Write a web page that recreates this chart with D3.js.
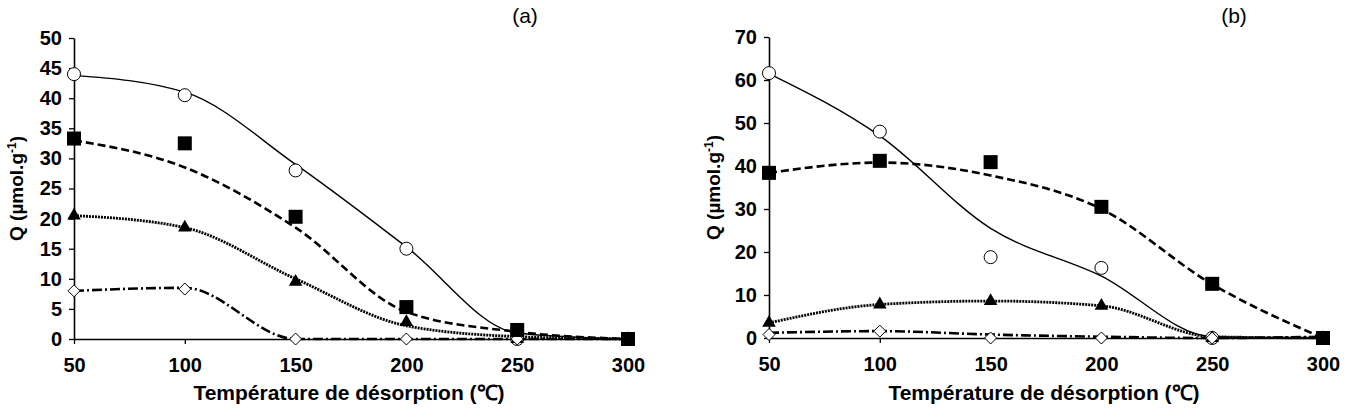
<!DOCTYPE html>
<html>
<head>
<meta charset="utf-8">
<script src="https://cdn.jsdelivr.net/npm/d3@7"></script>
<style>
    body { margin: 0; background: #fff; }
    svg text { font-family: "Liberation Sans", Arial, sans-serif; fill: #000; }
    .tick text { font-size: 20px; font-weight: bold; }
    .axis-title { font-size: 21px; font-weight: bold; }
    .panel-label { font-size: 21px; }
</style>
</head>
<body>
<svg id="chart" width="1371" height="410"></svg>
<script>
// temperatures (°C)
const temps = [50, 100, 150, 200, 250, 300];

// panel (a) measured points
const aCircle = [44, 40.5, 28, 15, 0, 0];
const aSquare = [33.3, 32.5, 20.3, 5.3, 1.5, 0];
const aTriangle = [20.5, 18.5, 9.5, 2.8, 0, 0];
const aDiamond = [8, 8.3, 0, 0, 0, 0];
// panel (a) smoothed trend lines
const aFitCircle = [43.8, 41, 29, 15.3, 1, 0];
const aFitSquare = [33, 28.5, 18.5, 4.5, 1.2, 0];
const aFitTriangle = [20.5, 18.5, 10, 2.2, 0.4, 0];
const aFitDiamond = [8, 8.5, 0, 0, 0, 0];

// panel (b) measured points
const bCircle = [61.6, 48, 18.8, 16.3, 0, 0];
const bSquare = [38.4, 41.2, 40.9, 30.5, 12.6, 0];
const bTriangle = [3.5, 7.8, 8.6, 7.5, 0, 0];
const bDiamond = [0.8, 1.6, 0, 0, 0, 0];
// panel (b) smoothed trend lines
const bFitCircle = [61.5, 47, 25.5, 14.4, 0.3, 0];
const bFitSquare = [38.4, 40.8, 37.8, 30, 12.5, 0];
const bFitTriangle = [3.5, 7.8, 8.6, 7.5, 0.3, 0];
const bFitDiamond = [1.2, 1.6, 0.8, 0.3, 0, 0.3];

const xTicks = [50, 100, 150, 200, 250, 300];
const aYTicks = d3.range(0, 51, 5);
const bYTicks = d3.range(0, 71, 10);

const svg = d3.select("#chart");

function drawPanel(opts) {
    const x = d3.scaleLinear().domain([50, 300]).range([opts.x0, opts.x1]);
    const y = d3.scaleLinear().domain([0, opts.yMax]).range([opts.y0, opts.y1]);
    const g = svg.append("g");

    // axes
    const xAxis = g.append("g")
        .attr("transform", `translate(0,${opts.y0})`)
        .call(d3.axisBottom(x).tickValues(xTicks).tickSize(5).tickSizeOuter(0).tickPadding(14));
    const yAxis = g.append("g")
        .attr("transform", `translate(${opts.x0},0)`)
        .call(d3.axisLeft(y).tickValues(opts.yTicks).tickSize(5).tickSizeOuter(0).tickPadding(7));
    [xAxis, yAxis].forEach(a => {
        a.attr("font-family", null).attr("font-size", null);
        a.select(".domain").attr("stroke", "#000").attr("stroke-width", 1.6);
        a.selectAll(".tick line").attr("stroke", "#000").attr("stroke-width", 1.3);
    });

    // trend lines
    const line = d3.line()
        .x((d, i) => x(temps[i]))
        .y(d => y(d))
        .curve(d3.curveMonotoneX);

    const styles = [
        { data: opts.fits[0], width: 1.4, dash: null },
        { data: opts.fits[1], width: 2.6, dash: "8,4" },
        { data: opts.fits[2], width: 2.8, dash: "2,1" },
        { data: opts.fits[3], width: 2.6, dash: "10,3,2,3" }
    ];
    styles.forEach(s => {
        g.append("path")
            .datum(s.data)
            .attr("fill", "none")
            .attr("stroke", "#000")
            .attr("stroke-width", s.width)
            .attr("stroke-dasharray", s.dash)
            .attr("d", line);
    });

    // markers
    g.selectAll(".circle-pt")
        .data(opts.points.circle)
        .join("circle")
        .attr("cx", (d, i) => x(temps[i]))
        .attr("cy", d => y(d))
        .attr("r", 6.5)
        .attr("fill", "#fff")
        .attr("stroke", "#000")
        .attr("stroke-width", 1);

    g.selectAll(".tri-pt")
        .data(opts.points.triangle)
        .join("path")
        .attr("transform", (d, i) => `translate(${x(temps[i])},${y(d)})`)
        .attr("d", d3.symbol(d3.symbolTriangle, 80))
        .attr("fill", "#000");

    g.selectAll(".dia-pt")
        .data(opts.points.diamond)
        .join("path")
        .attr("transform", (d, i) => `translate(${x(temps[i])},${y(d)})`)
        .attr("d", "M0,-6L6,0L0,6L-6,0Z")
        .attr("fill", "#fff")
        .attr("stroke", "#000")
        .attr("stroke-width", 1);

    g.selectAll(".sq-pt")
        .data(opts.points.square)
        .join("rect")
        .attr("x", (d, i) => x(temps[i]) - 7)
        .attr("y", d => y(d) - 7)
        .attr("width", 14)
        .attr("height", 14)
        .attr("fill", "#000");

    // titles
    g.append("text")
        .attr("class", "axis-title")
        .attr("x", (opts.x0 + opts.x1) / 2 - 2)
        .attr("y", 400)
        .attr("text-anchor", "middle")
        .text("Température de désorption (℃)");

    const yt = g.append("text")
        .attr("class", "axis-title")
        .attr("font-size", 19)
        .style("font-size", "19px")
        .attr("transform", `translate(${opts.yTitleX},${(opts.y0 + opts.y1) / 2}) rotate(-90)`)
        .attr("text-anchor", "middle");
    yt.append("tspan").text("Q (µmol.g");
    yt.append("tspan").attr("dy", -7).style("font-size", "12px").text("-1");
    yt.append("tspan").attr("dy", 7).text(")");

    g.append("text")
        .attr("class", "panel-label")
        .attr("x", opts.labelX)
        .attr("y", 23)
        .attr("text-anchor", "middle")
        .text(opts.label);
}

drawPanel({
    x0: 74, x1: 628, y0: 339, y1: 38, yMax: 50, yTicks: aYTicks,
    yTitleX: 23, labelX: 525, label: "(a)",
    fits: [aFitCircle, aFitSquare, aFitTriangle, aFitDiamond],
    points: { circle: aCircle, square: aSquare, triangle: aTriangle, diamond: aDiamond }
});

drawPanel({
    x0: 769, x1: 1323, y0: 338, y1: 37, yMax: 70, yTicks: bYTicks,
    yTitleX: 720, labelX: 1234, label: "(b)",
    fits: [bFitCircle, bFitSquare, bFitTriangle, bFitDiamond],
    points: { circle: bCircle, square: bSquare, triangle: bTriangle, diamond: bDiamond }
});
</script>
</body>
</html>
